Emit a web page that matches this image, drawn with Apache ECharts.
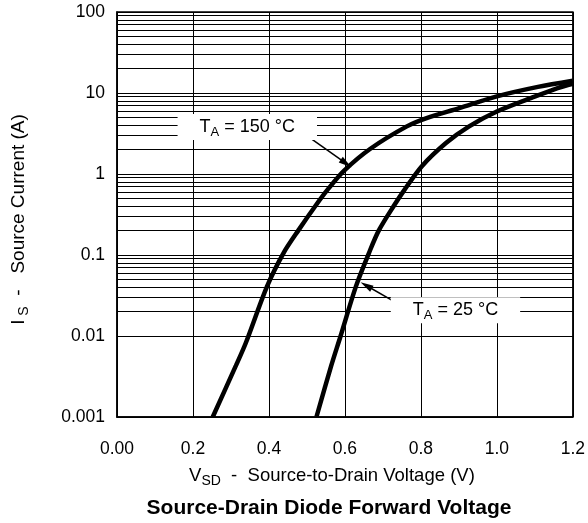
<!DOCTYPE html>
<html><head><meta charset="utf-8">
<script src="https://cdn.jsdelivr.net/npm/echarts/dist/echarts.min.js"></script>
<style>html,body{margin:0;padding:0;background:#fff}#c{width:588px;height:523px}</style>
</head><body><div id="c"></div>
<script>
// ---- data ----
const vsd150 = [0.252, 0.313, 0.339, 0.395, 0.438, 0.477, 0.525, 0.555, 0.598, 0.667, 0.763, 0.815, 0.901, 1.0, 1.108, 1.2];
const is150  = [0.001, 0.0043, 0.0082, 0.041, 0.105, 0.2, 0.42, 0.645, 1.1, 2.05, 3.87, 4.9, 6.5, 9.1, 11.9, 14.2];
const vsd25  = [0.525, 0.564, 0.588, 0.629, 0.663, 0.689, 0.731, 0.754, 0.802, 0.866, 0.927, 1.0, 1.091, 1.16, 1.2];
const is25   = [0.001, 0.0043, 0.0098, 0.041, 0.105, 0.2, 0.42, 0.61, 1.24, 2.41, 3.87, 5.9, 8.7, 11.5, 13.0];
const yTicks = [0.001, 0.01, 0.1, 1, 10, 100];
const yTickLabels = ['0.001', '0.01', '0.1', '1', '10', '100'];
const decades = [0.001, 0.01, 0.1, 1, 10];
const minorMult = [2, 3, 4, 5, 6, 7, 8, 9];
// annotation anchors (data space)
const label150 = [0.343, 3.8], arrow150From = [0.508, 2.8], arrow150To = [0.603, 1.35];
const label25 = [0.891, 0.0208], arrow25From = [0.729, 0.0268], arrow25To = [0.656, 0.042];

const FONT = '"Liberation Sans", Arial, Helvetica, sans-serif';
const zip = (a, b) => a.map((v, i) => [v, b[i]]);
const minorLines = [];
decades.forEach(d => minorMult.forEach(m => minorLines.push({ yAxis: +(d * m).toPrecision(3) })));

const chart = echarts.init(document.getElementById('c'), null, { renderer: 'canvas' });
const mkRich = (big, small, pad) => ({
  t: { fontSize: big, fontFamily: FONT, color: '#000', lineHeight: 24 },
  s: { fontSize: small, fontFamily: FONT, color: '#000', lineHeight: 24, verticalAlign: 'bottom', padding: [pad, 0, 0, 0] }
});
const annLabel = (txt) => ({
  show: true, position: 'inside', formatter: '{t|T}{s|A}{t| = ' + txt + ' °C}',
  backgroundColor: '#fff', padding: [1, 22, 1, 22], rich: mkRich(18, 13, 9)
});
chart.setOption({
  animation: false,
  textStyle: { fontFamily: FONT },
  grid: { left: 116, right: 9, top: 12, bottom: 106, show: true, borderColor: '#000', borderWidth: 1.5, backgroundColor: '#fff' },
  xAxis: {
    type: 'value', min: 0, max: 1.2, interval: 0.2,
    axisLine: { show: true, onZero: false, lineStyle: { color: '#000', width: 1.5 } },
    axisTick: { show: false },
    splitLine: { show: true, lineStyle: { color: '#000', width: 1 } },
    axisLabel: { fontSize: 17.5, color: '#000', margin: 23, fontFamily: FONT,
      formatter: v => v === 0 ? '0.00' : v.toFixed(1) },
    name: '{t|V}{s|SD}{t|  -  Source-to-Drain Voltage (V)}',
    nameLocation: 'middle', nameGap: 47,
    nameTextStyle: { padding: [0, 26, 0, 0], rich: mkRich(18.5, 14, 9) }
  },
  yAxis: {
    type: 'log', logBase: 10, min: 0.001, max: 100, splitNumber: 5,
    axisLine: { show: true, lineStyle: { color: '#000', width: 1.5 } },
    axisTick: { show: false },
    splitLine: { show: true, lineStyle: { color: '#000', width: 1 } },
    axisLabel: { fontSize: 17.5, color: '#000', margin: 12, fontFamily: FONT,
      formatter: v => {
        let best = 0;
        yTicks.forEach((t, i) => { if (Math.abs(Math.log10(t) - Math.log10(v)) < Math.abs(Math.log10(yTicks[best]) - Math.log10(v))) best = i; });
        return yTickLabels[best];
      } },
    name: '{t|I}{s| S}{t|  -   Source Current (A)}',
    nameLocation: 'middle', nameGap: 86, nameRotate: 90,
    nameTextStyle: { padding: [0, 10, 0, 0], rich: mkRich(19, 14, 9) }
  },
  graphic: [{
    type: 'text', x: 329, y: 508, z: 10,
    style: { text: 'Source-Drain Diode Forward Voltage', fontSize: 21, fontWeight: 'bold', fontFamily: FONT,
      fill: '#000', align: 'center', verticalAlign: 'middle' }
  }],
  series: [
    {
      type: 'line', name: 'minor', data: [], z: 1, silent: true,
      markLine: { silent: true, symbol: ['none', 'none'], label: { show: false },
        lineStyle: { color: '#000', width: 1, type: 'solid' }, emphasis: { disabled: true }, data: minorLines }
    },
    {
      type: 'line', name: 'TA = 150 °C', data: zip(vsd150, is150), smooth: 0.3, showSymbol: false, z: 3,
      lineStyle: { color: '#000', width: 4.5 }, itemStyle: { color: '#000' },
      markLine: { silent: true, symbol: ['none', 'triangle'], symbolSize: [7, 13], label: { show: false },
        lineStyle: { color: '#000', width: 1.5, type: 'solid' },
        data: [[{ coord: arrow150From }, { coord: arrow150To }]] },
      markPoint: { silent: true, symbol: 'rect', symbolSize: 1, itemStyle: { color: 'rgba(0,0,0,0)' },
        label: annLabel('150'), data: [{ coord: label150 }] }
    },
    {
      type: 'line', name: 'TA = 25 °C', data: zip(vsd25, is25), smooth: 0.3, showSymbol: false, z: 3,
      lineStyle: { color: '#000', width: 4.5 }, itemStyle: { color: '#000' },
      markLine: { silent: true, symbol: ['none', 'triangle'], symbolSize: [7, 13], label: { show: false },
        lineStyle: { color: '#000', width: 1.5, type: 'solid' },
        data: [[{ coord: arrow25From }, { coord: arrow25To }]] },
      markPoint: { silent: true, symbol: 'rect', symbolSize: 1, itemStyle: { color: 'rgba(0,0,0,0)' },
        label: annLabel('25'), data: [{ coord: label25 }] }
    }
  ]
});
</script>
</body></html>
